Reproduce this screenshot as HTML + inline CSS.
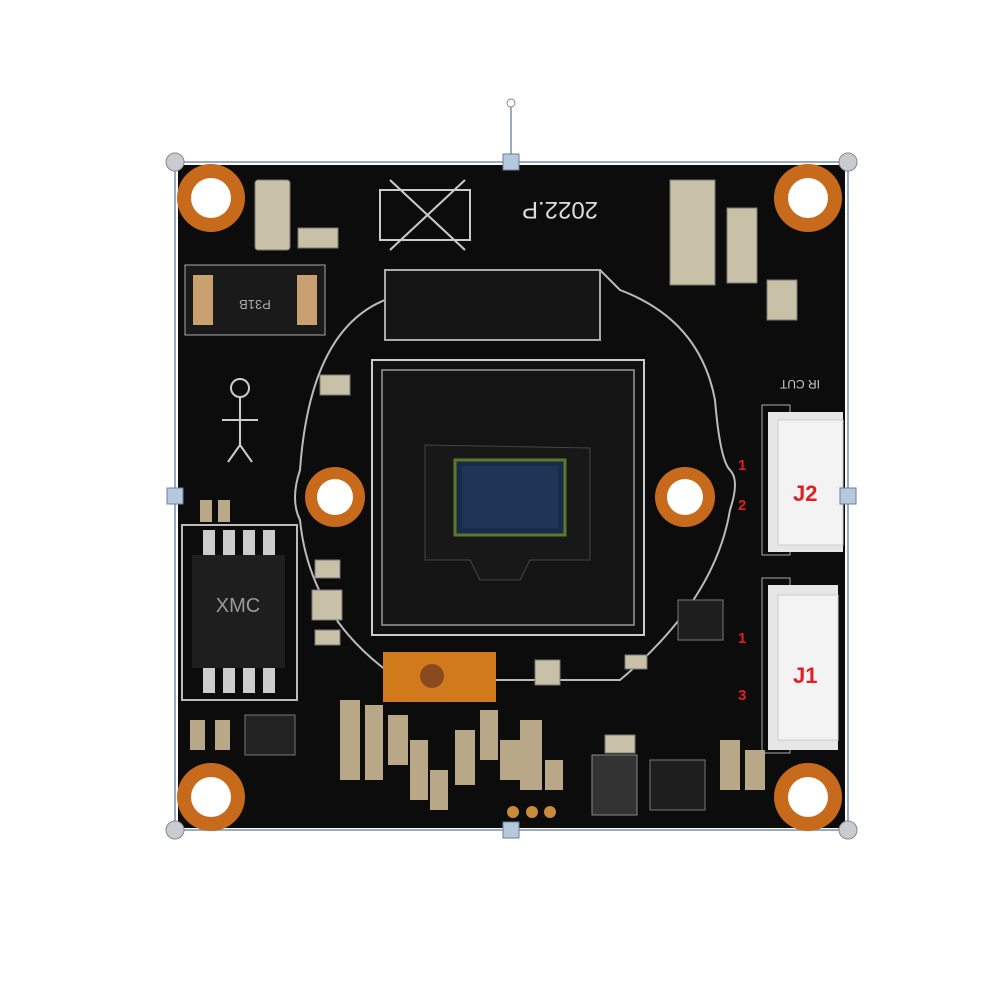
<!DOCTYPE html>
<html><head><meta charset="utf-8"><style>
html,body{margin:0;padding:0;background:#fff;width:1000px;height:1000px;overflow:hidden}
</style></head><body>
<svg width="1000" height="1000" viewBox="0 0 1000 1000" xmlns="http://www.w3.org/2000/svg" font-family="Liberation Sans, sans-serif">
<rect width="1000" height="1000" fill="#fff"/>
<!-- board -->
<rect x="178" y="165" width="667" height="663" fill="#0c0c0c"/>
<!-- selection frame -->
<rect x="175" y="162" width="673" height="668" fill="none" stroke="#7a8db0" stroke-width="1.5"/>
<line x1="511" y1="105" x2="511" y2="162" stroke="#7a8db0" stroke-width="1.5"/>
<circle cx="511" cy="103" r="4" fill="#fff" stroke="#888"/>
<!-- mounting holes -->
<g fill="#c76a1c">
<circle cx="211" cy="198" r="34"/><circle cx="808" cy="198" r="34"/>
<circle cx="211" cy="797" r="34"/><circle cx="808" cy="797" r="34"/>
<circle cx="335" cy="497" r="30"/><circle cx="685" cy="497" r="30"/>
</g>
<g fill="#fff">
<circle cx="211" cy="198" r="20"/><circle cx="808" cy="198" r="20"/>
<circle cx="211" cy="797" r="20"/><circle cx="808" cy="797" r="20"/>
<circle cx="335" cy="497" r="18"/><circle cx="685" cy="497" r="18"/>
</g>
<!-- silkscreen lens mount outline -->
<path d="M385 270 H600 L620 290 Q700 320 715 400 Q720 460 730 470 Q740 480 730 510 Q715 600 620 680 H400 Q310 620 300 520 Q290 500 300 470 Q310 330 385 300 Z" fill="none" stroke="#bbb" stroke-width="2"/>
<rect x="385" y="270" width="215" height="70" fill="#151515" stroke="#aaa" stroke-width="2"/>
<!-- sensor block -->
<rect x="372" y="360" width="272" height="275" fill="#111" stroke="#ccc" stroke-width="2"/>
<rect x="382" y="370" width="252" height="255" fill="#141414" stroke="#999" stroke-width="1.5"/>
<path d="M425 445 L590 448 L590 560 L530 560 L520 580 L480 580 L470 560 L425 560 Z" fill="#181818" stroke="#444"/>
<rect x="455" y="460" width="110" height="75" fill="#1a2a4a" stroke="#5a7a2a" stroke-width="3"/>
<rect x="462" y="466" width="96" height="62" fill="#203458"/>
<!-- caps/resistors -->
<g fill="#c9c0a8" stroke="#777">
<rect x="255" y="180" width="35" height="70" rx="3"/>
<rect x="298" y="228" width="40" height="20"/>
<rect x="670" y="180" width="45" height="105"/>
<rect x="727" y="208" width="30" height="75"/>
<rect x="767" y="280" width="30" height="40"/>
<rect x="320" y="375" width="30" height="20"/>
<rect x="315" y="560" width="25" height="18"/>
<rect x="312" y="590" width="30" height="30"/>
<rect x="315" y="630" width="25" height="15"/>
<rect x="535" y="660" width="25" height="25"/>
<rect x="625" y="655" width="22" height="14"/>
<rect x="605" y="735" width="30" height="18"/>
</g>
<g fill="#b8a888">
<rect x="340" y="700" width="20" height="80"/><rect x="365" y="705" width="18" height="75"/>
<rect x="388" y="715" width="20" height="50"/><rect x="410" y="740" width="18" height="60"/>
<rect x="430" y="770" width="18" height="40"/><rect x="455" y="730" width="20" height="55"/>
<rect x="480" y="710" width="18" height="50"/><rect x="500" y="740" width="20" height="40"/>
<rect x="520" y="720" width="22" height="70"/><rect x="545" y="760" width="18" height="30"/>
<rect x="720" y="740" width="20" height="50"/><rect x="745" y="750" width="20" height="40"/>
<rect x="190" y="720" width="15" height="30"/><rect x="215" y="720" width="15" height="30"/>
<rect x="200" y="500" width="12" height="22"/><rect x="218" y="500" width="12" height="22"/>
</g>
<!-- inductor -->
<rect x="185" y="265" width="140" height="70" fill="#1a1a1a" stroke="#aaa"/>
<rect x="193" y="275" width="20" height="50" fill="#c9a070"/><rect x="297" y="275" width="20" height="50" fill="#c9a070"/>
<text x="255" y="300" font-size="13" fill="#aaa" text-anchor="middle" transform="rotate(180 255 300)">P31B</text>
<!-- flash chip -->
<rect x="182" y="525" width="115" height="175" fill="none" stroke="#bbb" stroke-width="2"/>
<g fill="#ccc">
<rect x="203" y="530" width="12" height="25"/><rect x="223" y="530" width="12" height="25"/><rect x="243" y="530" width="12" height="25"/><rect x="263" y="530" width="12" height="25"/>
<rect x="203" y="668" width="12" height="25"/><rect x="223" y="668" width="12" height="25"/><rect x="243" y="668" width="12" height="25"/><rect x="263" y="668" width="12" height="25"/>
</g>
<rect x="192" y="555" width="93" height="113" fill="#1e1e1e"/>
<text x="238" y="612" font-size="20" fill="#999" text-anchor="middle">XMC</text>
<!-- orange flex -->
<rect x="383" y="652" width="113" height="50" fill="#d07a1c"/>
<circle cx="432" cy="676" r="12" fill="#8a4a20"/>
<!-- date -->
<text x="560" y="218" font-size="24" fill="#ddd" text-anchor="middle" transform="rotate(180 560 210)">2022.P</text>
<rect x="380" y="190" width="90" height="50" fill="none" stroke="#ccc" stroke-width="2"/>
<line x1="390" y1="180" x2="465" y2="250" stroke="#ccc" stroke-width="2"/><line x1="465" y1="180" x2="390" y2="250" stroke="#ccc" stroke-width="2"/>
<!-- stick figure -->
<g stroke="#ccc" stroke-width="2" fill="none">
<circle cx="240" cy="388" r="9"/><line x1="240" y1="397" x2="240" y2="445"/>
<line x1="222" y1="420" x2="258" y2="420"/><line x1="240" y1="445" x2="228" y2="462"/><line x1="240" y1="445" x2="252" y2="462"/>
</g>
<!-- connectors -->
<rect x="762" y="405" width="28" height="150" fill="none" stroke="#aaa"/>
<rect x="768" y="412" width="75" height="140" fill="#e6e6e6"/>
<rect x="778" y="420" width="65" height="125" fill="#f3f3f3" stroke="#ccc"/>
<rect x="762" y="578" width="28" height="175" fill="none" stroke="#aaa"/>
<rect x="768" y="585" width="70" height="165" fill="#e6e6e6"/>
<rect x="778" y="595" width="60" height="145" fill="#f3f3f3" stroke="#ccc"/>
<g font-weight="bold" fill="#e02020">
<text x="793" y="501" font-size="22">J2</text>
<text x="793" y="683" font-size="22">J1</text>
<text x="738" y="470" font-size="15">1</text><text x="738" y="510" font-size="15">2</text>
<text x="738" y="643" font-size="15">1</text><text x="738" y="700" font-size="15">3</text>
</g>
<text x="800" y="388" font-size="12" fill="#ccc" text-anchor="middle" transform="rotate(180 800 384)">IR CUT</text>
<!-- small ICs -->
<rect x="245" y="715" width="50" height="40" fill="#222" stroke="#777"/>
<rect x="592" y="755" width="45" height="60" fill="#333" stroke="#888"/>
<rect x="650" y="760" width="55" height="50" fill="#1e1e1e" stroke="#777"/>
<rect x="678" y="600" width="45" height="40" fill="#1e1e1e" stroke="#777"/>
<g fill="#c98a3a"><circle cx="513" cy="812" r="6"/><circle cx="532" cy="812" r="6"/><circle cx="550" cy="812" r="6"/></g>
<!-- handles -->
<g fill="#c8ccd2" stroke="#888">
<circle cx="175" cy="162" r="9"/><circle cx="848" cy="162" r="9"/>
<circle cx="175" cy="830" r="9"/><circle cx="848" cy="830" r="9"/>
</g>
<g fill="#b6c8dc" stroke="#6a7f9a">
<rect x="503" y="154" width="16" height="16"/><rect x="503" y="822" width="16" height="16"/>
<rect x="167" y="488" width="16" height="16"/><rect x="840" y="488" width="16" height="16"/>
</g>
</svg>
</body></html>
